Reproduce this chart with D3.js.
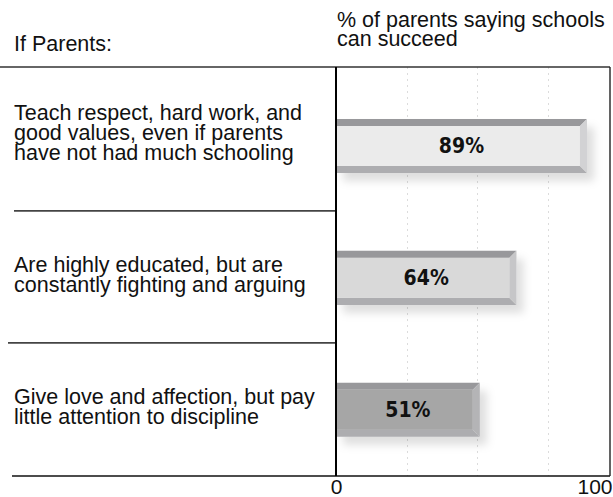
<!DOCTYPE html>
<html>
<head>
<meta charset="utf-8">
<script src="https://cdn.jsdelivr.net/npm/d3@7"></script>
<style>
  body { margin: 0; background: #fff; }
  svg { display: block; font-family: "Liberation Sans", Arial, sans-serif; }
  .row-label, .head { font-size: 21.5px; fill: #111; }
  .val { font-family: "DejaVu Sans Condensed", "DejaVu Sans", sans-serif; font-stretch: condensed; font-weight: bold; font-size: 21px; fill: #111; }
  .axis text { font-family: "Liberation Sans", Arial, sans-serif; font-size: 21px; fill: #111; }
</style>
</head>
<body>
<div id="chart"></div>
<script>
// data
const categories = ['respect', 'educated', 'love'];
const rowLabels = [
    ['Teach respect, hard work, and', 'good values, even if parents', 'have not had much schooling'],
    ['Are highly educated, but are', 'constantly fighting and arguing'],
    ['Give love and affection, but pay', 'little attention to discipline']
];
const values = [89, 64, 51];
const valueLabels = ['89%', '64%', '51%'];
const tickValues = [0, 100];
const gridValues = [25, 50, 75];

// styles
const faceColors = ['#ebebeb', '#d9d9d9', '#a6a6a6'];
const sideColors = ['#d2d2d4', '#c6c6c8', '#b4b4b6'];

const W = 613, H = 497;
const plot = { left: 336, right: 610, top: 67, bottom: 476 };
const bevel = 7;

const svg = d3.select('#chart').append('svg')
    .attr('width', W)
    .attr('height', H);

const defs = svg.append('defs');
const shadow = defs.append('filter')
    .attr('id', 'shadow')
    .attr('x', '-10%').attr('y', '-30%')
    .attr('width', '130%').attr('height', '180%');
shadow.append('feDropShadow')
    .attr('dx', 7).attr('dy', 8)
    .attr('stdDeviation', 4)
    .attr('flood-color', '#000')
    .attr('flood-opacity', 0.13);

const x = d3.scaleLinear()
    .domain([0, 100])
    .range([plot.left, 618]);

const y = d3.scaleBand()
    .domain(categories)
    .range([plot.top, plot.bottom])
    .paddingInner(0.59)
    .paddingOuter(0.345)
    .align(0.57);

// gridlines
svg.append('g')
    .selectAll('line')
    .data(gridValues)
    .join('line')
    .attr('x1', d => Math.round(x(d)) + 0.5)
    .attr('x2', d => Math.round(x(d)) + 0.5)
    .attr('y1', plot.top)
    .attr('y2', plot.bottom)
    .attr('stroke', '#dcdcdc')
    .attr('stroke-dasharray', '2,4');

// header
svg.append('text').attr('class', 'head')
    .attr('x', 14).attr('y', 51)
    .text('If Parents:');
svg.append('text').attr('class', 'head')
    .attr('x', 337).attr('y', 27)
    .text('% of parents saying schools');
svg.append('text').attr('class', 'head')
    .attr('x', 337).attr('y', 46)
    .text('can succeed');

// bars
const step = y.step();
const bars = svg.append('g')
    .selectAll('g')
    .data(categories)
    .join('g')
    .attr('filter', 'url(#shadow)');

bars.each(function(c, i) {
    const g = d3.select(this);
    const x0 = x(0), x1 = x(values[i]);
    const y0 = y(c), y1 = y(c) + y.bandwidth();
    g.append('rect')
        .attr('x', x0).attr('y', y0 + bevel)
        .attr('width', x1 - x0 - bevel)
        .attr('height', y1 - y0 - 2 * bevel)
        .attr('fill', faceColors[i]);
    g.append('path')
        .attr('d', `M${x0},${y0}L${x1},${y0}L${x1 - bevel},${y0 + bevel}L${x0},${y0 + bevel}Z`)
        .attr('fill', '#98989b');
    g.append('path')
        .attr('d', `M${x0},${y1}L${x1},${y1}L${x1 - bevel},${y1 - bevel}L${x0},${y1 - bevel}Z`)
        .attr('fill', '#adadb0');
    g.append('path')
        .attr('d', `M${x1},${y0}L${x1},${y1}L${x1 - bevel},${y1 - bevel}L${x1 - bevel},${y0 + bevel}Z`)
        .attr('fill', sideColors[i]);
});

svg.append('g')
    .selectAll('text')
    .data(categories)
    .join('text')
    .attr('class', 'val')
    .attr('x', (c, i) => (x(0) + x(values[i])) / 2)
    .attr('y', c => y(c) + y.bandwidth() / 2 + 7)
    .attr('text-anchor', 'middle')
    .text((c, i) => valueLabels[i]);

// row labels
const lineH = 20;
const rowCenter = c => y(c) + y.bandwidth() / 2;
const labels = svg.append('g')
    .selectAll('text')
    .data(categories)
    .join('text')
    .attr('class', 'row-label')
    .attr('x', 14)
    .attr('y', (c, i) => rowCenter(c) - (rowLabels[i].length - 1) * lineH / 2 + 4 - (i === 0 ? 10 : 0));
labels.each(function(c, i) {
    d3.select(this).selectAll('tspan')
        .data(rowLabels[i])
        .join('tspan')
        .attr('x', 14)
        .attr('dy', (d, j) => j === 0 ? 0 : lineH)
        .text(d => d);
});

// separators between rows
const sepStarts = [14, 8];
svg.append('g')
    .selectAll('line')
    .data(categories.slice(1))
    .join('line')
    .attr('x1', (c, i) => sepStarts[i])
    .attr('x2', plot.left)
    .attr('y1', c => y(c) - step * y.paddingInner() / 2 - 1)
    .attr('y2', c => y(c) - step * y.paddingInner() / 2 - 1)
    .attr('stroke', '#444')
    .attr('stroke-width', 1.6);

// frame
svg.append('line')
    .attr('x1', 0).attr('x2', plot.right)
    .attr('y1', plot.top).attr('y2', plot.top)
    .attr('stroke', '#333').attr('stroke-width', 1.6);
svg.append('line')
    .attr('x1', 12).attr('x2', plot.right)
    .attr('y1', plot.bottom).attr('y2', plot.bottom)
    .attr('stroke', '#111').attr('stroke-width', 1.6);
svg.append('line')
    .attr('x1', plot.left).attr('x2', plot.left)
    .attr('y1', plot.top).attr('y2', plot.bottom)
    .attr('stroke', '#000').attr('stroke-width', 2);
svg.append('line')
    .attr('x1', plot.right).attr('x2', plot.right)
    .attr('y1', plot.top).attr('y2', plot.bottom)
    .attr('stroke', '#222').attr('stroke-width', 1.4);

// x axis labels
const axis = svg.append('g')
    .attr('class', 'axis')
    .attr('transform', `translate(0,${plot.bottom})`)
    .call(d3.axisBottom(x).tickValues(tickValues).tickSize(0).tickPadding(18));
axis.select('.domain').remove();
axis.selectAll('.tick text')
    .attr('dy', 0)
    .attr('text-anchor', d => d === 100 ? 'end' : 'middle')
    .attr('dx', d => d === 100 ? -6 : 0);
</script>
</body>
</html>
